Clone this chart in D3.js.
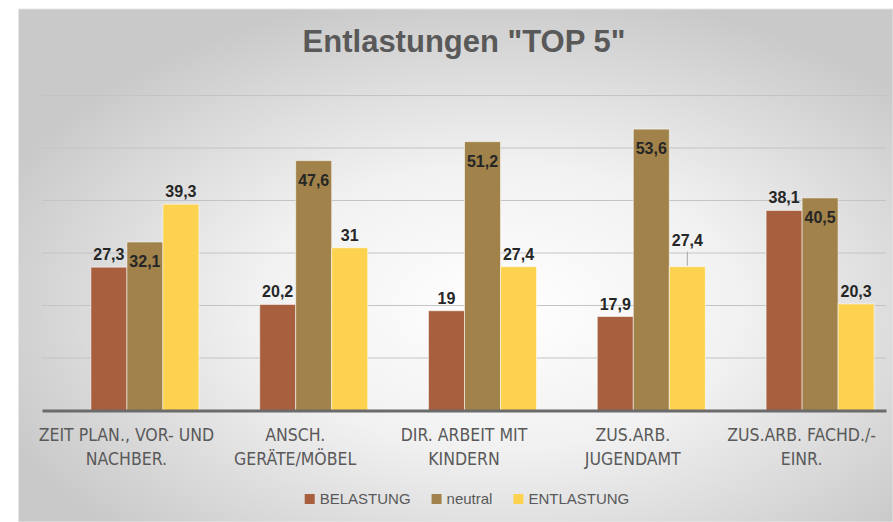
<!DOCTYPE html>
<html lang="de">
<head>
  <meta charset="utf-8">
  <title>Entlastungen TOP 5</title>
  <script src="https://d3js.org/d3.v7.min.js"></script>
  <style>
    html, body { margin: 0; padding: 0; background: #fff; }
    svg { display: block; }
  </style>
</head>
<body>
<div id="chart"></div>
<script>
  // data
  var categories = [
    ["ZEIT PLAN., VOR- UND", "NACHBER."],
    ["ANSCH.", "GERÄTE/MÖBEL"],
    ["DIR. ARBEIT MIT", "KINDERN"],
    ["ZUS.ARB.", "JUGENDAMT"],
    ["ZUS.ARB. FACHD./-", "EINR."]
  ];
  var seriesNames = ["BELASTUNG", "neutral", "ENTLASTUNG"];
  var belastung = [27.3, 20.2, 19, 17.9, 38.1];
  var neutral = [32.1, 47.6, 51.2, 53.6, 40.5];
  var entlastung = [39.3, 31, 27.4, 27.4, 20.3];
  var yTicks = [0, 10, 20, 30, 40, 50, 60];

  var colors = ["#a85f3d", "#a0824a", "#fcd24f"];
  var seriesValues = [belastung, neutral, entlastung];

  var width = 893, height = 522;
  var plot = { left: 42, right: 886, top: 95.5, bottom: 410.5 };

  var svg = d3.select("#chart").append("svg")
    .attr("width", width)
    .attr("height", height);

  // background panel
  var defs = svg.append("defs");
  var grad = defs.append("radialGradient")
    .attr("id", "bg")
    .attr("cx", "0.55").attr("cy", "0.58").attr("r", "0.62");
  grad.append("stop").attr("offset", "0").attr("stop-color", "#ffffff");
  grad.append("stop").attr("offset", "0.45").attr("stop-color", "#f1f1f1");
  grad.append("stop").attr("offset", "1").attr("stop-color", "#c9c9c9");

  svg.append("rect")
    .attr("x", 18.5).attr("y", 9)
    .attr("width", width - 18.5).attr("height", height - 9)
    .attr("fill", "url(#bg)")
    .attr("stroke", "#e6e6e6")
    .attr("stroke-width", 1);

  var catIdx = d3.range(categories.length);

  // labels sit on the plot bands, bar groups sit a bit to the right
  var xCat = d3.scaleBand().domain(catIdx).range([plot.left, plot.right]);
  var xGroup = d3.scaleBand().domain(catIdx)
    .range([plot.left + 18.5, plot.right + 18.5])
    .paddingInner(0.36).paddingOuter(0.18);
  var xSeries = d3.scaleBand().domain(d3.range(seriesNames.length))
    .range([0, xGroup.bandwidth()]);
  var y = d3.scaleLinear().domain([0, 60]).range([plot.bottom, plot.top]);

  // gridlines
  svg.append("g")
    .attr("class", "grid")
    .selectAll("line")
    .data(yTicks.filter(function(d) { return d > 0; }))
    .enter().append("line")
    .attr("x1", plot.left).attr("x2", plot.right)
    .attr("y1", function(d) { return y(d); })
    .attr("y2", function(d) { return y(d); })
    .attr("stroke", "#c4c4c4")
    .attr("stroke-width", 1.2);

  // bars
  var rows = [];
  catIdx.forEach(function(c) {
    seriesValues.forEach(function(vals, s) {
      rows.push({ c: c, s: s, v: vals[c] });
    });
  });

  var bars = svg.append("g").attr("class", "bars");
  bars.selectAll("rect")
    .data(rows)
    .enter().append("rect")
    .attr("x", function(d) { return xGroup(d.c) + xSeries(d.s); })
    .attr("y", function(d) { return y(d.v); })
    .attr("width", xSeries.bandwidth())
    .attr("height", function(d) { return y(0) - y(d.v); })
    .attr("fill", function(d) { return colors[d.s]; })
    .attr("stroke", "rgba(255,255,255,0.55)")
    .attr("stroke-width", 1);

  // x axis line
  var xAxis = svg.append("g")
    .attr("transform", "translate(0," + y(0) + ")")
    .call(d3.axisBottom(xCat).tickSize(0).tickFormat(""));
  xAxis.select(".domain")
    .attr("stroke", "#6b6b6b")
    .attr("stroke-width", 3);

  // category labels
  var catLabels = svg.append("g").attr("class", "cat-labels");
  catIdx.forEach(function(c) {
    var t = catLabels.append("text")
      .attr("x", xCat(c) + xCat.bandwidth() / 2)
      .attr("y", 441)
      .attr("text-anchor", "middle")
      .attr("font-family", "'Liberation Sans Narrow', 'DejaVu Sans Condensed', sans-serif")
      .attr("font-size", "17.5px")
      .attr("fill", "#595959");
    categories[c].forEach(function(line, i) {
      t.append("tspan")
        .attr("x", xCat(c) + xCat.bandwidth() / 2)
        .attr("dy", i === 0 ? 0 : 24)
        .text(line);
    });
  });

  // value labels (neutral sits inside the bar top, the rest above)
  var fmt = function(v) { return String(v).replace(".", ","); };
  var lifted = { "3-2": 14 }; // label pulled up with a leader line
  var vl = svg.append("g").attr("class", "value-labels");
  rows.forEach(function(d) {
    var cx = xGroup(d.c) + xSeries(d.s) + xSeries.bandwidth() / 2;
    var lift = lifted[d.c + "-" + d.s] || 0;
    var ty = d.s === 1 ? y(d.v) + 25 : y(d.v) - 7 - lift;
    if (lift) {
      vl.append("line")
        .attr("x1", cx).attr("x2", cx)
        .attr("y1", ty + 6).attr("y2", y(d.v) - 1)
        .attr("stroke", "#a6a6a6")
        .attr("stroke-width", 1);
    }
    vl.append("text")
      .attr("x", cx)
      .attr("y", ty)
      .attr("text-anchor", "middle")
      .attr("font-family", "'Liberation Sans', Arial, sans-serif")
      .attr("font-weight", "bold")
      .attr("font-size", "16px")
      .attr("fill", "#262626")
      .text(fmt(d.v));
  });

  // title
  svg.append("text")
    .attr("x", (plot.left + plot.right) / 2)
    .attr("y", 52)
    .attr("text-anchor", "middle")
    .attr("font-family", "'Liberation Sans', Arial, sans-serif")
    .attr("font-weight", "bold")
    .attr("font-size", "31px")
    .attr("fill", "#595959")
    .text('Entlastungen "TOP 5"');

  // legend
  var legend = svg.append("g").attr("class", "legend");
  var items = legend.selectAll("g")
    .data(seriesNames)
    .enter().append("g");
  items.append("rect")
    .attr("width", 10).attr("height", 10)
    .attr("y", -10)
    .attr("fill", function(d, i) { return colors[i]; });
  items.append("text")
    .attr("x", 15)
    .attr("font-family", "'Liberation Sans', Arial, sans-serif")
    .attr("font-size", "15px")
    .attr("fill", "#595959")
    .text(function(d) { return d; });

  var offs = [], acc = 0;
  items.each(function() {
    var w = 15 + this.querySelector("text").getComputedTextLength();
    offs.push(acc);
    acc += w + 21;
  });
  acc -= 21;
  var lx = (plot.left + plot.right) / 2 + 3 - acc / 2;
  items.attr("transform", function(d, i) {
    return "translate(" + (lx + offs[i]) + ",504)";
  });
</script>
</body>
</html>
